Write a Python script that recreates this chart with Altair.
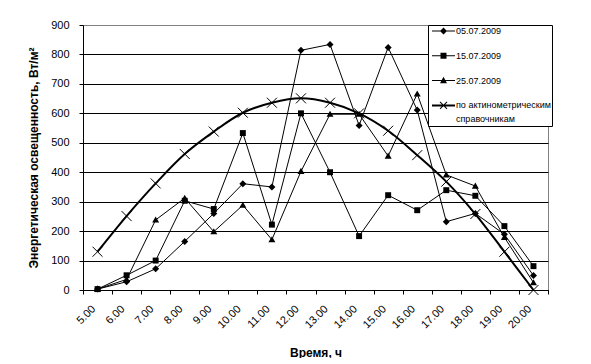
import altair as alt
import pandas as pd

times = ["5.00", "6.00", "7.00", "8.00", "9.00", "10.00", "11.00", "12.00",
         "13.00", "14.00", "15.00", "16.00", "17.00", "18.00", "19.00", "20.00"]
series_names = ["05.07.2009", "15.07.2009", "25.07.2009",
                "по актинометрическим справочникам"]
s_0507 = [3, 28, 72, 165, 260, 361, 350, 814, 834, 559, 824, 611, 232, 260, 189, 49]
s_1507 = [3, 50, 100, 303, 275, 533, 222, 600, 400, 183, 322, 271, 339, 320, 217, 81]
s_2507 = [3, 36, 238, 312, 198, 288, 171, 403, 597, 597, 455, 666, 391, 353, 179, 25]
s_ref = [130, 251, 362, 462, 538, 602, 636, 651, 636, 600, 541, 458, 368, 258, 130, 0]
y_ticks = [0, 100, 200, 300, 400, 500, 600, 700, 800, 900]

rows = []
for name, vals in zip(series_names, [s_0507, s_1507, s_2507, s_ref]):
    for t, v in zip(times, vals):
        rows.append({"time": t, "series": name, "value": v})
df = pd.DataFrame(rows)
measured = df[df["series"] != series_names[3]]
refdf = df[df["series"] == series_names[3]]

FONT = "Liberation Sans"


def poly(pts, dx=0.0):
    return "M" + "L".join(f"{x + dx:.3f},{y:.3f}" for x, y in pts) + "Z"


def hline(h, L, dx=0.0):
    return poly([(-L, -h), (L, -h), (L, h), (-L, h)], dx)


diamond_m = poly([(0, -1), (1, 0), (0, 1), (-1, 0)])
square_m = poly([(-0.85, -0.85), (0.85, -0.85), (0.85, 0.85), (-0.85, 0.85)])
triangle_m = poly([(0, -1), (1, 0.75), (-1, 0.75)])
cross_m = "M-1,-1L1,1M-1,1L1,-1"

# legend symbols: unit = 5 px (symbol size 100), shifted right inside the box
L = 2.3
a, d = 0.7, 0.07
sx = 1.9
leg_diamond = hline(0.1, L, sx) + poly([(0, -0.7), (0.7, 0), (0, 0.7), (-0.7, 0)], sx)
leg_square = hline(0.1, L, sx) + poly([(-0.6, -0.6), (0.6, -0.6), (0.6, 0.6), (-0.6, 0.6)], sx)
leg_tri = hline(0.1, L, sx) + poly([(0, -0.75), (0.7, 0.55), (-0.7, 0.55)], sx)
leg_cross = (hline(0.2, L, sx)
             + poly([(-a + d, -a - d), (a + d, a - d), (a - d, a + d), (-a - d, -a + d)], sx)
             + poly([(-a - d, a - d), (a - d, -a - d), (a + d, -a + d), (-a + d, a + d)], sx))

x_enc = alt.X(
    "time:O", sort=times, title="Время, ч",
    scale=alt.Scale(type="band", paddingInner=0, paddingOuter=0),
    axis=alt.Axis(labelAngle=-45, labelAlign="right", labelBaseline="middle",
                  labelPadding=13, labelOffset=-4, tickBand="extent", tickSize=4, grid=False,
                  titleY=66, titleBaseline="alphabetic", titleFontSize=12,
                  titleFontWeight="bold"),
)
y_enc = alt.Y(
    "value:Q", title="Энергетическая освещенность, Вт/м²",
    scale=alt.Scale(domain=[0, 900], nice=False),
    axis=alt.Axis(values=y_ticks, tickSize=4, labelPadding=10, grid=True,
                  gridColor={"condition": {"test": "datum.value >= 900", "value": "#808080"},
                             "value": "black"},
                  titlePadding=10, titleFontSize=12, titleFontWeight="bold"),
)

lines = alt.Chart(measured).mark_line(color="black", strokeWidth=1).encode(
    x=x_enc, y=y_enc, detail="series:N")
ref_line = alt.Chart(refdf).mark_line(color="black", strokeWidth=2,
                                      interpolate="catmull-rom").encode(x=x_enc, y=y_enc)
pts = alt.Chart(measured).mark_point(filled=True, size=49, color="black", opacity=1).encode(
    x=x_enc, y=y_enc,
    shape=alt.Shape("series:N", scale=alt.Scale(domain=series_names[:3],
                                                range=[diamond_m, square_m, triangle_m]),
                    legend=None))
crosses = alt.Chart(refdf).mark_point(shape=cross_m, size=100, color="black",
                                      strokeWidth=1, opacity=1).encode(x=x_enc, y=y_enc)
legend_layer = alt.Chart(df).mark_point(filled=True, size=100, color="black", opacity=0).encode(
    x=x_enc, y=y_enc,
    shape=alt.Shape("series:N", scale=alt.Scale(domain=series_names,
                                                range=[leg_diamond, leg_square, leg_tri, leg_cross]),
                    legend=alt.Legend(
                        title=None, orient="none", legendX=345, legendY=0,
                        direction="vertical", padding=1, strokeColor="black",
                        fillColor="white", cornerRadius=0,
                        labelFont=FONT, labelFontSize=9, labelColor="black",
                        labelOffset=17, rowPadding=14.8, symbolSize=100,
                        symbolStrokeWidth=0, symbolFillColor="black", symbolOpacity=1,
                        labelExpr="datum.label == 'по актинометрическим справочникам' ? "
                                  "['по актинометрическим', 'справочникам'] : datum.label")))

chart = alt.layer(lines, ref_line, pts, crosses, legend_layer).resolve_scale(
    shape="independent"
).properties(
    width=465, height=265,
    padding={"left": 75, "top": 17, "right": 30, "bottom": 68},
    autosize=alt.AutoSizeParams(type="none"),
).configure(
    style={"guide-label": {"lineHeight": 14}}
).configure_view(
    stroke="#808080", strokeWidth=1
).configure_axis(
    domainColor="black", tickColor="black", labelColor="black", titleColor="black",
    labelFont=FONT, titleFont=FONT, labelFontSize=11
)

chart.save("out.html", embed_options={"renderer": "svg", "actions": False})
